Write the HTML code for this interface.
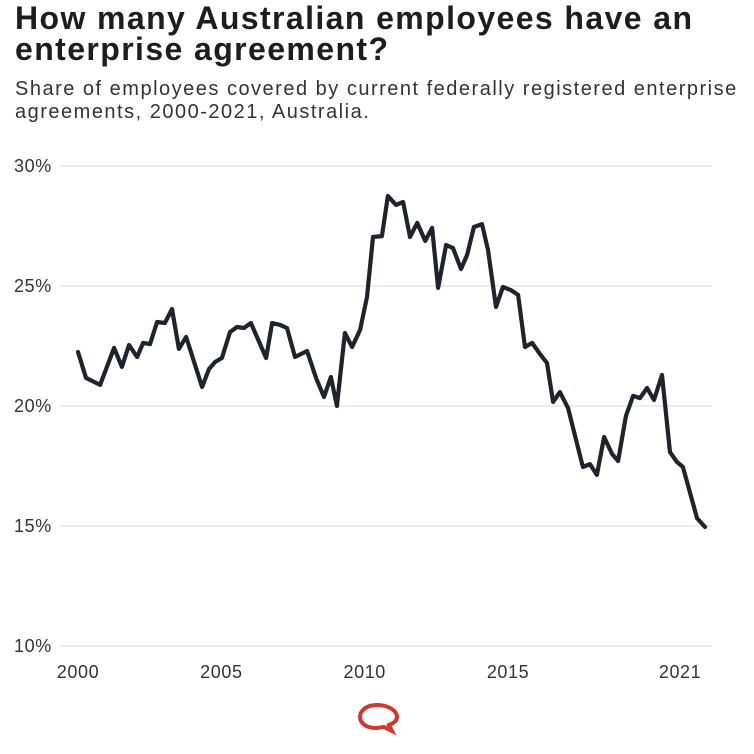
<!DOCTYPE html>
<html><head><meta charset="utf-8"><style>
body{margin:0;width:754px;height:754px;background:#fff;font-family:"Liberation Sans",sans-serif;overflow:hidden;position:relative}
h1{position:absolute;left:15px;top:3px;margin:0;font-size:32px;line-height:31px;font-weight:bold;color:#1d1d1d;letter-spacing:1.4px;white-space:nowrap}
p{position:absolute;left:15px;top:78px;margin:0;font-size:20px;line-height:23px;color:#333;letter-spacing:1.5px;white-space:nowrap}
svg{position:absolute;left:0;top:0}
</style></head><body>
<h1>How many Australian employees have an<br>enterprise agreement?</h1>
<p>Share of employees covered by current federally registered enterprise<br>agreements, 2000-2021, Australia.</p>
<svg width="754" height="754" id="c"></svg>
<script>
const years=[0,.28,.77,1.26,1.53,1.78,2.06,2.27,2.51,2.76,3.03,3.28,3.52,3.77,4.33,4.57,4.78,5.02,5.30,5.55,5.79,6.03,6.56,6.77,7.05,7.29,7.57,7.99,8.30,8.58,8.82,9.03,9.31,9.56,9.84,10.08,10.29,10.60,10.81,11.09,11.34,11.58,11.83,12.11,12.35,12.56,12.84,13.08,13.36,13.57,13.81,14.09,14.30,14.58,14.82,15.10,15.35,15.59,15.84,16.11,16.36,16.57,16.81,17.09,17.61,17.86,18.10,18.35,18.63,18.84,19.11,19.36,19.60,19.85,20.09,20.37,20.65,20.89,21.10,21.35,21.59,21.87];
const values=[22.25,21.17,20.88,22.42,21.63,22.54,22.04,22.63,22.58,23.5,23.46,24.04,22.38,22.88,20.79,21.54,21.83,22.0,23.08,23.29,23.25,23.46,22.0,23.46,23.38,23.25,22.04,22.29,21.17,20.38,21.21,20.0,23.04,22.46,23.17,24.54,27.04,27.08,28.75,28.38,28.5,27.04,27.63,26.88,27.42,24.92,26.71,26.58,25.71,26.29,27.46,27.58,26.5,24.13,24.96,24.83,24.63,22.46,22.63,22.17,21.79,20.17,20.58,19.92,17.46,17.58,17.13,18.71,18.0,17.71,19.58,20.42,20.33,20.75,20.25,21.29,18.08,17.67,17.46,16.38,15.33,14.96];
const yTicks=[10,15,20,25,30];
const xTicks=[2000,2005,2010,2015,2021];
const ns="http://www.w3.org/2000/svg",svg=document.getElementById('c');
const X=t=>78+t*28.67, Y=v=>166+(30-v)*24;
function el(n,a){const e=document.createElementNS(ns,n);for(const k in a)e.setAttribute(k,a[k]);svg.appendChild(e);return e;}
yTicks.forEach(v=>{
 const g=el('line',{x1:60,x2:712,y1:Y(v),y2:Y(v),stroke:'#e6e6e6','stroke-width':1.5});
 
 
 const t=el('text',{x:14,y:Y(v)+6,'font-size':18,'letter-spacing':0.6,fill:'#333','font-family':'Liberation Sans, sans-serif'});
 t.textContent=v+'%';
 
 
});
xTicks.forEach(y=>{
 const t=el('text',{x:X(y-2000),y:678,'font-size':18,'letter-spacing':0.6,fill:'#333','text-anchor':'middle','font-family':'Liberation Sans, sans-serif'});
 t.textContent=y;
 
 
});
const d=years.map((t,i)=>(i?'L':'M')+X(t).toFixed(1)+','+Y(values[i]).toFixed(1)).join('');
const p=el('path',{d:d,fill:'none',stroke:'#1f232b','stroke-width':4.2,'stroke-linejoin':'round','stroke-linecap':'round'});


const lg=el('path',{d:'M377,705 c-11,0 -17,6 -17,12 c0,6 6,11 16,11 c3,0 6,-1 8,-1 l8,4 l-3,-6 c5,-2 8,-5 8,-8 c0,-6 -8,-12 -20,-12z',fill:'none',stroke:'#d8352a','stroke-width':4});


</script>
</body></html>
